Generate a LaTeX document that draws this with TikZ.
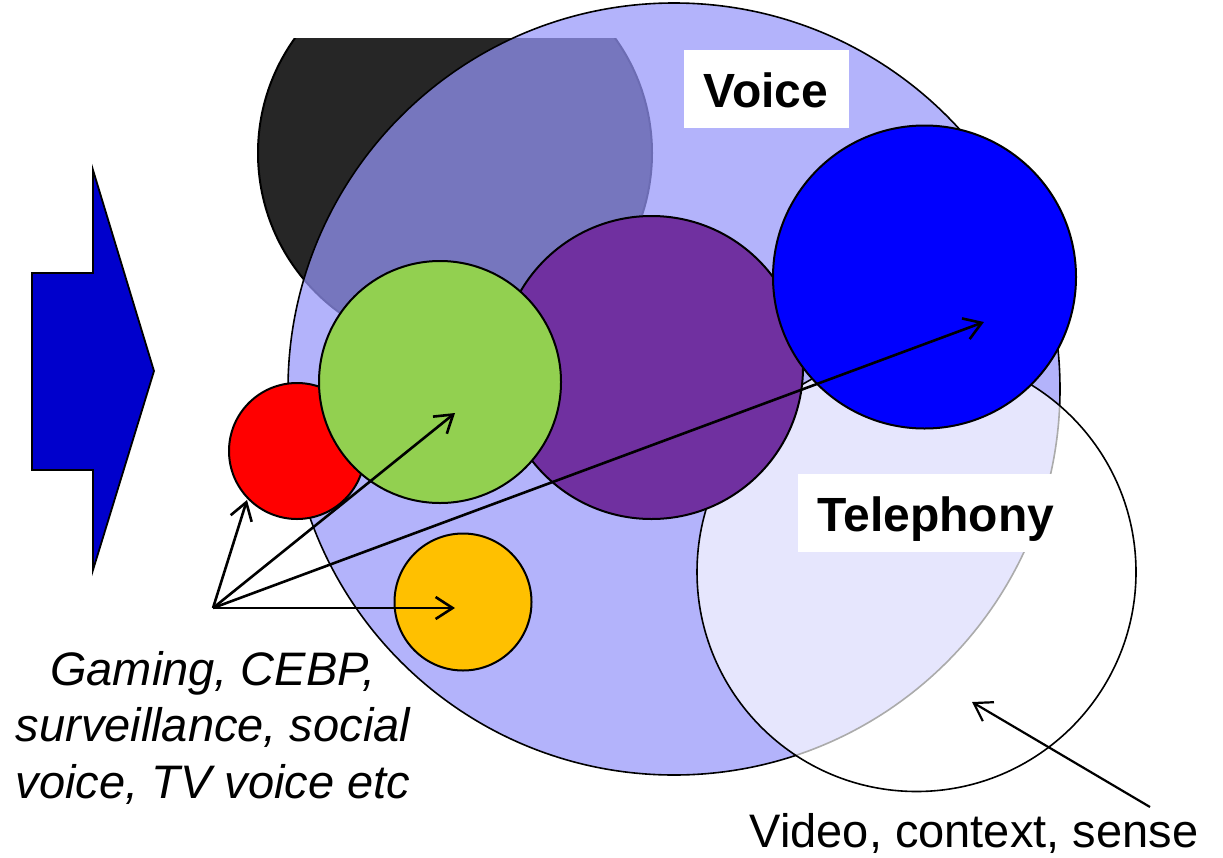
\documentclass[tikz,border=0pt]{standalone}
\usepackage{fontspec}
\setmainfont{Liberation Sans}
\usetikzlibrary{arrows.meta}

\definecolor{darkdisc}{RGB}{38,38,38}
\definecolor{lavender}{RGB}{150,150,249}
\definecolor{mauve}{RGB}{112,48,160}
\definecolor{lime}{RGB}{146,208,80}
\definecolor{amber}{RGB}{255,192,0}
\definecolor{royal}{RGB}{0,0,255}
\definecolor{navyarrow}{RGB}{0,0,204}

\tikzset{
  disc/.style={circle, inner sep=0pt, outer sep=0pt, draw=black, line width=2pt},
  pointer/.style={line width=2.6pt, -{Straight Barb[length=17pt, width=22pt]}},
  labelbox/.style={fill=white, inner sep=0pt, outer sep=0pt},
  boldtext/.style={font=\fontsize{48}{56}\selectfont\bfseries},
  plaintext/.style={font=\fontsize{47}{56.5}\selectfont, inner sep=0pt},
}

\begin{document}
\begin{tikzpicture}[x=1pt, y=-1pt]
\useasboundingbox (0,0) rectangle (1223,857);

% block arrow on the left
\draw[fill=navyarrow, draw=black, line width=1.8pt, line join=miter]
  (32,273) -- (93,273) -- (93,170) -- (154,371) -- (93,570) -- (93,470) -- (32,470) -- cycle;

% dark disc, cut off at the top
\begin{scope}
  \clip (0,38) rectangle (1223,857);
  \node[disc, fill=darkdisc, minimum size=394pt] (dark) at (455,153) {};
\end{scope}

% large translucent voice circle
\node[disc, line width=1.6pt, fill=lavender, fill opacity=0.72, minimum size=772pt] (voice) at (674,389) {};

% translucent telephony circle
\node[disc, line width=1.6pt, fill=white, fill opacity=0.67, minimum size=439pt] (tel) at (916.5,572) {};

% solid coloured circles
\node[disc, fill=mauve, minimum size=303pt] (purple) at (651.5,367.5) {};
\node[disc, fill=royal, minimum size=303pt] (blue) at (924.5,277) {};
\node[disc, fill=red, minimum size=136pt] (red) at (297,451) {};
\node[disc, fill=lime, minimum size=242pt] (green) at (440,382) {};
\node[disc, fill=amber, minimum size=137pt] (orange) at (463,602) {};

% labels
\node[labelbox, minimum width=165pt, minimum height=78pt] (voicebox) at (766.5,89) {};
\node[boldtext, inner sep=0pt, anchor=base] (voicelabel) at (766,107) {Voice};
\node[labelbox, minimum width=255pt, minimum height=78pt] (telbox) at (925.5,513) {};
\node[boldtext, inner sep=0pt, anchor=base] (tellabel) at (936,531) {Telephony};

% multi-line text: the base anchor sits on its last line
\node[plaintext, anchor=base, align=center] (apps) at (213,798)
  {\itshape Gaming, CEBP,\\ \itshape surveillance, social\\ \itshape voice, TV voice etc};
\node[plaintext, anchor=base] (extras) at (974,847) {Video, context, sense};

% pointers
\coordinate (src) at (213,608);
\coordinate (tipred) at (247,500);
\coordinate (tipgreen) at (455,413);
\coordinate (tipblue) at (984,322);
\coordinate (tiporange) at (455,608);
\coordinate (tailext) at (1150,807);
\coordinate (tipext) at (972,702);

\draw[pointer] (src) -- (tipred);
\draw[pointer] (src) -- (tipgreen);
\draw[pointer] (src) -- (tipblue);
\draw[pointer] (src) -- (tiporange);
\draw[pointer, line width=2.2pt] (tailext) -- (tipext);
\end{tikzpicture}
\end{document}
